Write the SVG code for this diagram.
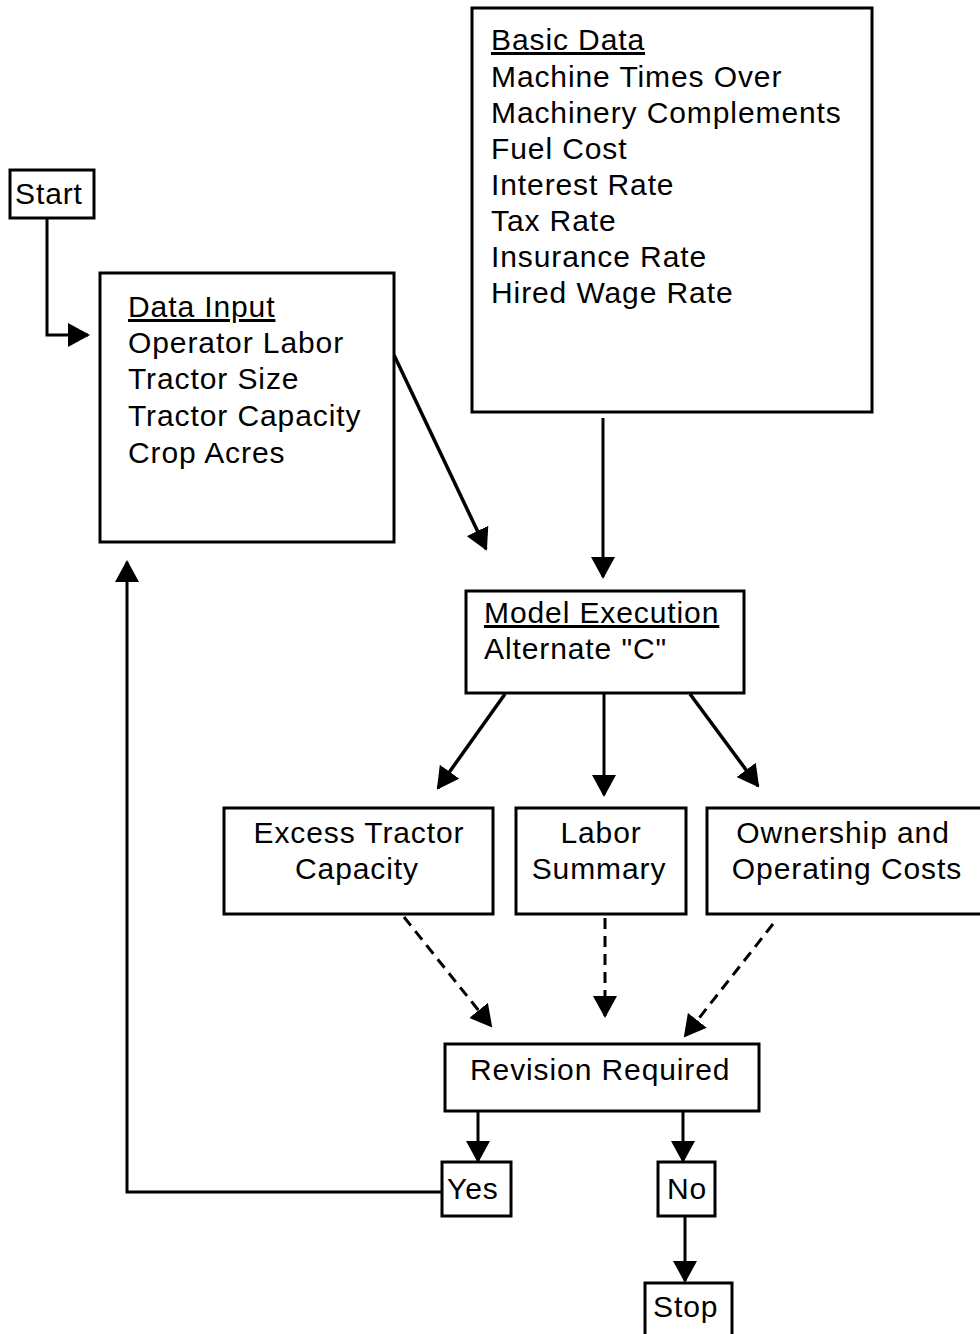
<svg xmlns="http://www.w3.org/2000/svg" width="980" height="1334" viewBox="0 0 980 1334">
<style>
.box{fill:#fff;stroke:#000;stroke-width:3}
.t{font-family:"Liberation Sans",Arial,Helvetica,sans-serif;font-size:30px;letter-spacing:0.9px;fill:#000}
.c{text-anchor:middle}
.u{text-decoration:underline}
.ln{fill:none;stroke:#000;stroke-width:3}
.dg{fill:none;stroke:#000;stroke-width:3.5}
.ds{fill:none;stroke:#000;stroke-width:3;stroke-dasharray:11 7}
</style>
<defs>
<marker id="ah" markerUnits="userSpaceOnUse" markerWidth="22" markerHeight="24" refX="20" refY="12" orient="auto">
<path d="M0,0 L22,12 L0,24 z" fill="#000"/>
</marker>
</defs>
<rect width="980" height="1334" fill="#fff"/>
<g id="connectors">
<polyline class="ln" points="47,218 47,335 88,335" marker-end="url(#ah)"/>
<line class="dg" x1="394" y1="355" x2="486" y2="549" marker-end="url(#ah)"/>
<line class="ln" x1="603" y1="418" x2="603" y2="577" marker-end="url(#ah)"/>
<line class="dg" x1="505" y1="694" x2="438" y2="788" marker-end="url(#ah)"/>
<line class="ln" x1="604" y1="694" x2="604" y2="795" marker-end="url(#ah)"/>
<line class="dg" x1="690" y1="694" x2="758" y2="786" marker-end="url(#ah)"/>
<line class="ds" x1="404" y1="917" x2="491" y2="1026" marker-end="url(#ah)"/>
<line class="ds" x1="605" y1="918" x2="605" y2="1016" marker-end="url(#ah)"/>
<line class="ds" x1="773" y1="924" x2="685" y2="1036" marker-end="url(#ah)"/>
<line class="ln" x1="478" y1="1111" x2="478" y2="1161" marker-end="url(#ah)"/>
<line class="ln" x1="683" y1="1111" x2="683" y2="1161" marker-end="url(#ah)"/>
<line class="ln" x1="685" y1="1216" x2="685" y2="1281" marker-end="url(#ah)"/>
<polyline class="ln" points="442,1192 127,1192 127,562" marker-end="url(#ah)"/>
</g>
<g id="start">
<rect class="box" x="10" y="170" width="84" height="48"/>
<text class="t" x="15" y="204">Start</text>
</g>
<g id="data-input">
<rect class="box" x="100" y="273" width="294" height="269"/>
<text class="t u" x="128" y="317">Data Input</text>
<text class="t" x="128" y="353">Operator Labor</text>
<text class="t" x="128" y="389">Tractor Size</text>
<text class="t" x="128" y="426">Tractor Capacity</text>
<text class="t" x="128" y="463">Crop Acres</text>
</g>
<g id="basic-data">
<rect class="box" x="472" y="8" width="400" height="404"/>
<text class="t u" x="491" y="50">Basic Data</text>
<text class="t" x="491" y="87">Machine Times Over</text>
<text class="t" x="491" y="123">Machinery Complements</text>
<text class="t" x="491" y="159">Fuel Cost</text>
<text class="t" x="491" y="195">Interest Rate</text>
<text class="t" x="491" y="231">Tax Rate</text>
<text class="t" x="491" y="267">Insurance Rate</text>
<text class="t" x="491" y="303">Hired Wage Rate</text>
</g>
<g id="model-execution">
<rect class="box" x="466" y="591" width="278" height="102"/>
<text class="t u" x="484" y="623">Model Execution</text>
<text class="t" x="484" y="659">Alternate "C"</text>
</g>
<g id="excess-tractor">
<rect class="box" x="224" y="808" width="269" height="106"/>
<text class="t c" x="359" y="843">Excess Tractor</text>
<text class="t c" x="357" y="879">Capacity</text>
</g>
<g id="labor-summary">
<rect class="box" x="516" y="808" width="170" height="106"/>
<text class="t c" x="601" y="843">Labor</text>
<text class="t c" x="599" y="879">Summary</text>
</g>
<g id="ownership">
<rect class="box" x="707" y="808" width="278" height="106"/>
<text class="t c" x="843" y="843">Ownership and</text>
<text class="t c" x="847" y="879">Operating Costs</text>
</g>
<g id="revision">
<rect class="box" x="445" y="1044" width="314" height="67"/>
<text class="t" x="470" y="1080">Revision Required</text>
</g>
<g id="yes">
<rect class="box" x="442" y="1162" width="69" height="54"/>
<text class="t" x="447" y="1199">Yes</text>
</g>
<g id="no">
<rect class="box" x="658" y="1162" width="57" height="54"/>
<text class="t" x="667" y="1199">No</text>
</g>
<g id="stop">
<rect class="box" x="645" y="1283" width="87" height="60"/>
<text class="t" x="653" y="1317">Stop</text>
</g>
</svg>
